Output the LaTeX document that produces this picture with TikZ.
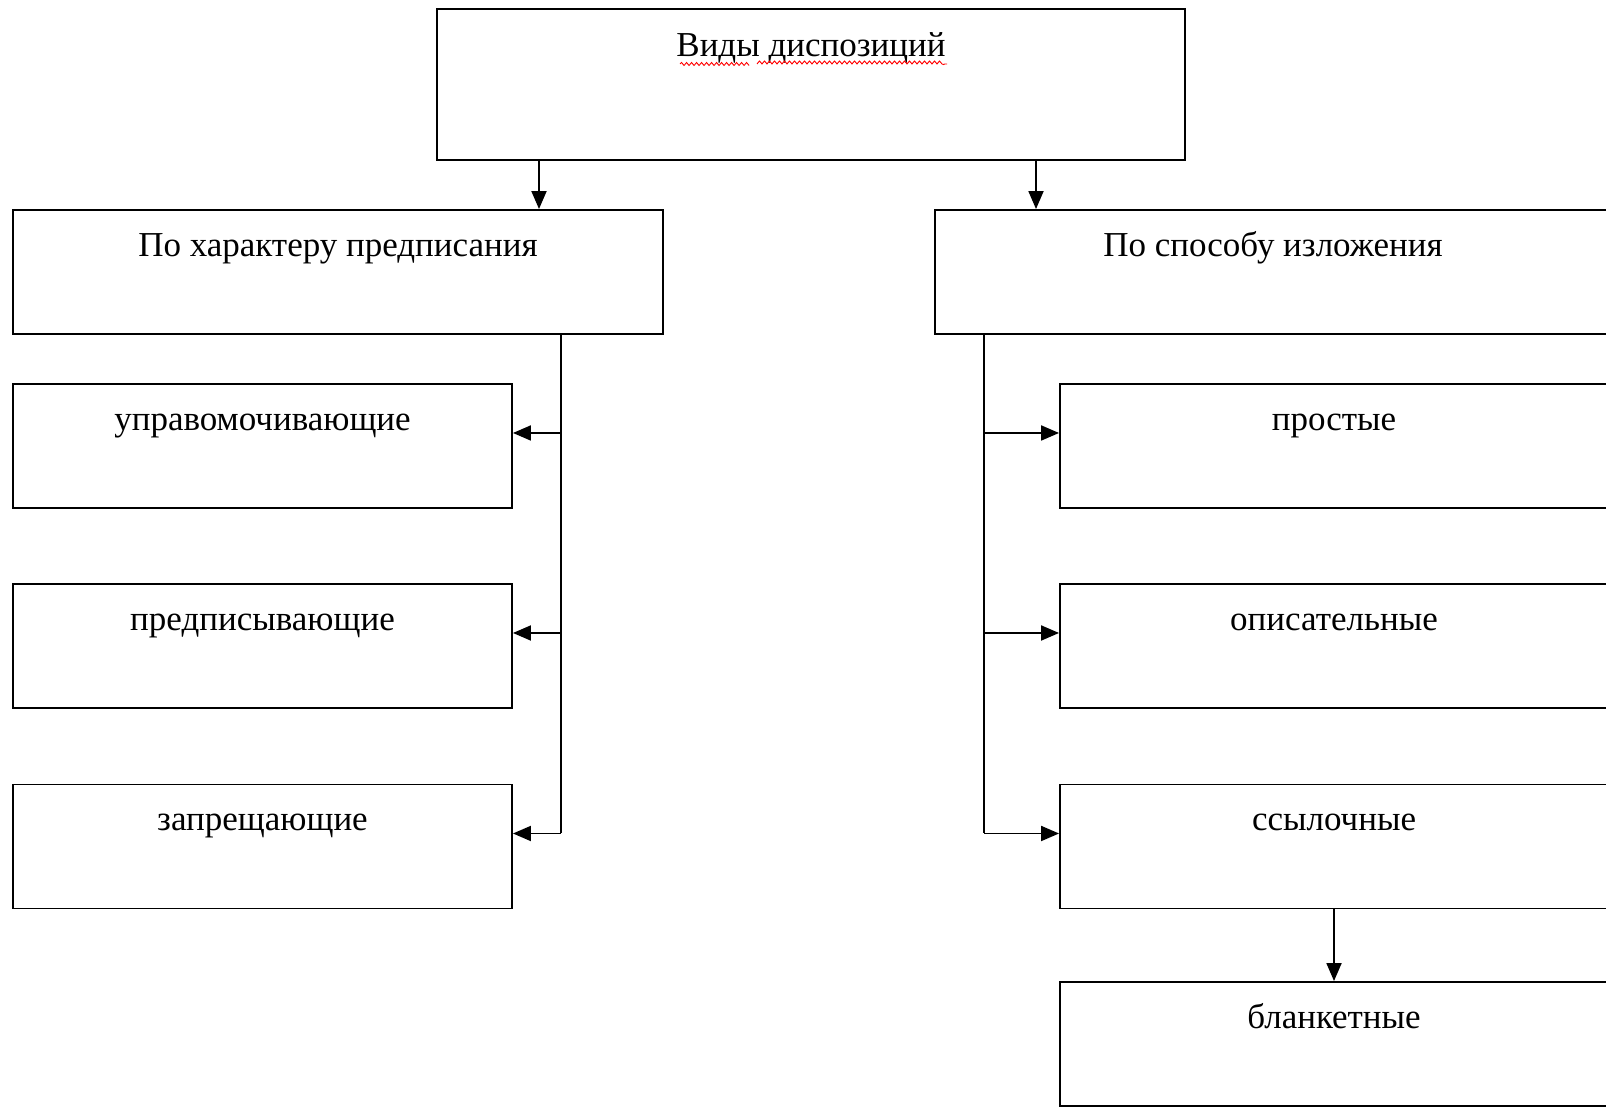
\documentclass[tikz,border=0pt]{standalone}
\usepackage{fontspec}
\setmainfont{Liberation Serif}
\usepackage{tikz}
\usetikzlibrary{arrows.meta, positioning, calc, decorations.pathmorphing}
\tikzstyle{box} = [draw, line width=1.9pt, inner sep=0pt]
\tikzstyle{lbl} = [anchor=base, font=\fontsize{35}{38}\selectfont]
\tikzstyle{arrow} = [line width=1.9pt, -{Triangle[length=18pt,width=15pt]}]
\tikzstyle{line} = [line width=1.9pt]

\begin{document}
\begin{tikzpicture}[x=1pt, y=1pt]
\useasboundingbox (0,0) rectangle (1606,1110);

% Header
\node[box, minimum width=748, minimum height=151] (vid) at (811,1025.5) {};
\node[lbl] (vidt) at ([yshift=-48]vid.north) {Виды диспозиций};
\draw[red, line width=0.9pt, decorate, decoration={snake, amplitude=1.5pt, segment length=5pt}]
  (680,1046) -- (748,1046) (757,1046) -- (947,1046);

% Groups
\node[box, minimum width=650, minimum height=124] (har) at (338,838) {};
\node[lbl] (hart) at ([yshift=-47]har.north) {По характеру предписания};

\node[box, minimum width=676, minimum height=124] (spo) at (1273,838) {};
\node[lbl] (spot) at ([yshift=-47]spo.north) {По способу изложения};

% Left children
\node[box, minimum width=499, minimum height=124] (upr) at (262.5,664) {};
\node[lbl] at ([yshift=-47]upr.north) {управомочивающие};
\node[box, minimum width=499, minimum height=124] (pre) at (262.5,464) {};
\node[lbl] at ([yshift=-47]pre.north) {предписывающие};
\node[box, minimum width=499, minimum height=124] (zap) at (262.5,263.5) {};
\node[lbl] at ([yshift=-47]zap.north) {запрещающие};

% Right children
\node[box, minimum width=548, minimum height=124] (pro) at (1334,664) {};
\node[lbl] at ([yshift=-47]pro.north) {простые};
\node[box, minimum width=548, minimum height=124] (opi) at (1334,464) {};
\node[lbl] at ([yshift=-47]opi.north) {описательные};
\node[box, minimum width=548, minimum height=124] (ssy) at (1334,263.5) {};
\node[lbl] at ([yshift=-47]ssy.north) {ссылочные};
\node[box, minimum width=548, minimum height=124] (bla) at (1334,66) {};
\node[lbl] at ([yshift=-47]bla.north) {бланкетные};

% Arrows from header
\coordinate (al) at (539,0);
\coordinate (ar) at (1036,0);
\draw[arrow] (vid.south -| al) -- (har.north -| al);
\draw[arrow] (vid.south -| ar) -- (spo.north -| ar);

% Left bus
\coordinate (lb) at (561,0);
\draw[line] (har.south -| lb) -- ([yshift=13]zap.east -| lb);
\foreach \n in {upr, pre, zap}
  \draw[arrow] ([yshift=13]\n.east -| lb) -- ([yshift=13]\n.east);

% Right bus
\coordinate (rb) at (984,0);
\draw[line] (spo.south -| rb) -- ([yshift=13]ssy.west -| rb);
\foreach \n in {pro, opi, ssy}
  \draw[arrow] ([yshift=13]\n.west -| rb) -- ([yshift=13]\n.west);

% Down to blanket
\draw[arrow] (ssy.south) -- (bla.north);
\end{tikzpicture}
\end{document}
